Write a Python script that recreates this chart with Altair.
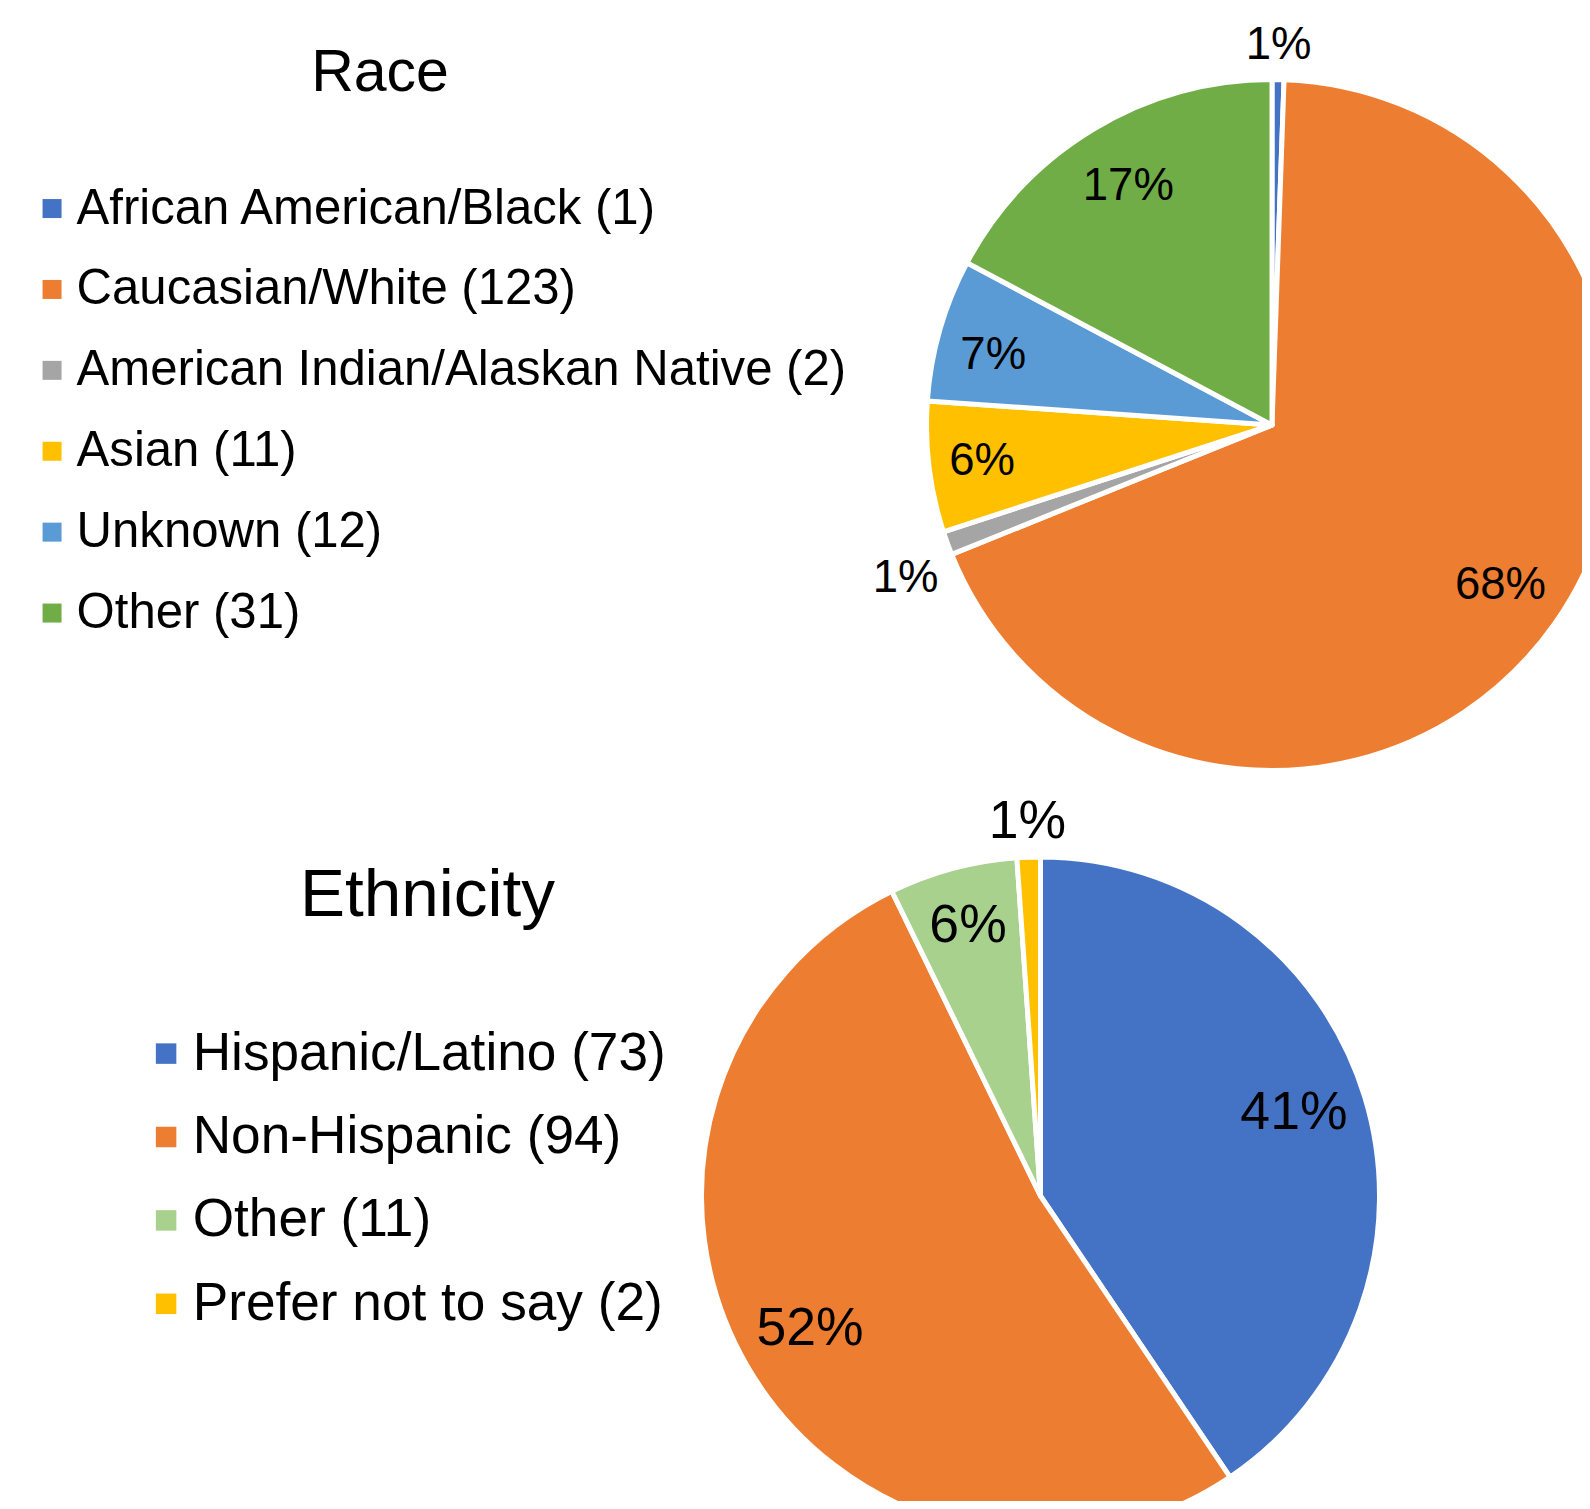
import math
import altair as alt
import pandas as pd

FONT = "Liberation Sans"

titles = ["Race", "Ethnicity"]

race_names = ["African American/Black", "Caucasian/White", "American Indian/Alaskan Native",
              "Asian", "Unknown", "Other"]
race_counts = [1, 123, 2, 11, 12, 31]
race_colors = ["#4472C4", "#ED7D31", "#A5A5A5", "#FFC000", "#5B9BD5", "#70AD47"]

eth_names = ["Hispanic/Latino", "Non-Hispanic", "Other", "Prefer not to say"]
eth_counts = [73, 94, 11, 2]
eth_colors = ["#4472C4", "#ED7D31", "#A9D18E", "#FFC000"]


def make_df(names, counts):
    total = sum(counts)
    return pd.DataFrame({
        "label": [f"{n} ({c})" for n, c in zip(names, counts)],
        "count": counts,
        "order": list(range(len(names))),
        "pct": [f"{round(c / total * 100)}%" for c in counts],
    })


def pie(df, colors, cx, cy, R, label_groups, pct_size, legend_kwargs):
    total = int(df["count"].sum())
    theta_scale = alt.Scale(domain=[0, total], range=[0, 2 * math.pi])
    base = alt.Chart(df).transform_stack(
        stack="count", as_=["t0", "t1"], groupby=[],
        sort=[alt.SortField("order", order="ascending")]
    ).transform_calculate(tm="(datum.t0 + datum.t1) / 2")
    arcs = base.mark_arc(radius=R, stroke="white", strokeWidth=5, strokeJoin="round", clip=True).encode(
        theta=alt.Theta("t0:Q", scale=theta_scale),
        theta2="t1:Q",
        color=alt.Color("label:N", scale=alt.Scale(domain=list(df["label"]), range=colors),
                        legend=alt.Legend(**legend_kwargs)),
        order=alt.Order("order:Q"),
        x=alt.value(cx), y=alt.value(cy),
    )
    layers = [arcs]
    for idxs, r, dy in label_groups:
        t = base.transform_filter(
            alt.FieldOneOfPredicate(field="order", oneOf=idxs)
        ).mark_text(radius=r, dy=dy, fontSize=pct_size, font=FONT, color="black").encode(
            theta=alt.Theta("tm:Q", scale=theta_scale, stack=False),
            text="pct:N",
            x=alt.value(cx), y=alt.value(cy),
        )
        layers.append(t)
    return alt.layer(*layers)


def legend_opts(x, y, size, sym, row_pad, label_off):
    return dict(orient="none", legendX=x, legendY=y, title=None,
                labelFont=FONT, labelFontSize=size, labelColor="black",
                symbolType="square", symbolSize=sym, symbolStrokeWidth=0,
                labelOffset=label_off, rowPadding=row_pad, padding=0, labelLimit=3000)


race_df = make_df(race_names, race_counts)
eth_df = make_df(eth_names, eth_counts)

race_pie = pie(
    race_df, race_colors, 1264, 417, 345.5,
    [([1, 5], 279, 0), ([3], 292, 0), ([4], 290, 10), ([0], 380, 0), ([2], 390, 20)],
    45.5, legend_opts(19.5, 176, 49.1, 361, 30.9, 0),
)
eth_pie = pie(
    eth_df, eth_colors, 1032.5, 1188, 339,
    [([0], 265, -6), ([1], 266, 0), ([2], 280, 0), ([3], 374, 0)],
    53.5, legend_opts(131.5, 1019, 53.2, 420, 29.4, 0),
)

race_title = alt.Chart(pd.DataFrame({"t": [titles[0]]})).mark_text(
    fontSize=59, font=FONT, align="center", baseline="alphabetic", color="black"
).encode(text="t:N", x=alt.value(372), y=alt.value(83))
eth_title = alt.Chart(pd.DataFrame({"t": [titles[1]]})).mark_text(
    fontSize=67.5, font=FONT, align="center", baseline="alphabetic", color="black"
).encode(text="t:N", x=alt.value(419.5), y=alt.value(908))

chart = alt.layer(race_title, race_pie, eth_title, eth_pie).resolve_scale(
    color="independent", theta="independent"
).resolve_legend(color="independent").properties(
    width=1574, height=1493, padding=0,
    autosize=alt.AutoSizeParams(type="none"),
).configure_view(stroke=None)

chart.save("out.html", embed_options={"renderer": "svg", "actions": False})
